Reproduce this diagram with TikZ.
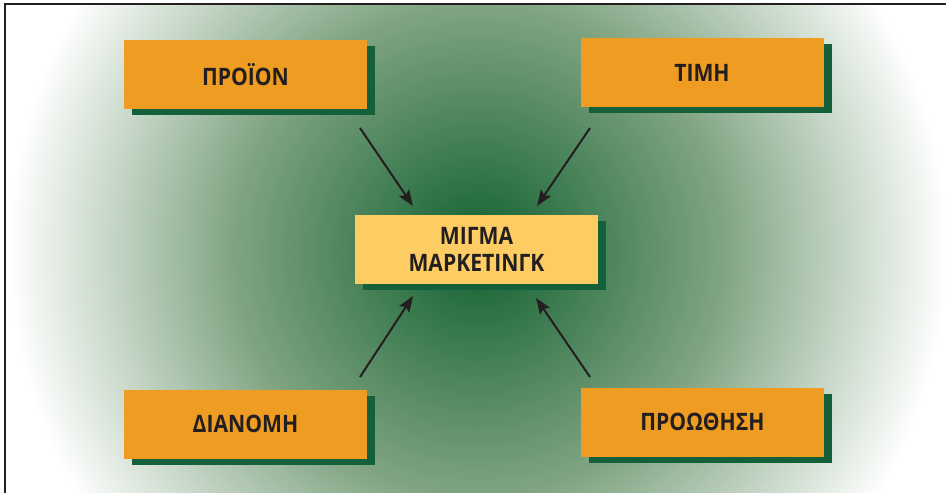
\documentclass[tikz,border=0pt]{standalone}
\usepackage{fontspec}
\setmainfont{Open Sans}[FakeStretch=0.88]
\usetikzlibrary{arrows.meta,shadows}

\definecolor{boxorange}{RGB}{239,156,34}
\definecolor{boxyellow}{RGB}{253,204,98}
\definecolor{shadowgreen}{RGB}{19,96,58}
\definecolor{inkdark}{RGB}{35,31,32}
\definecolor{glowcore}{RGB}{30,104,58}
\definecolor{glowmid}{RGB}{128,164,130}

% radial glow: dark green core fading to white at the rim (rim = 25bp)
\pgfdeclareradialshading{greenglow}{\pgfpoint{0bp}{0bp}}{%
  color(0bp)=(glowcore);
  color(2bp)=(glowcore!95!glowmid);
  color(13bp)=(glowmid);
  color(25bp)=(white);
  color(50bp)=(white)}

\tikzset{
  mixbox/.style={rectangle, inner sep=0pt, outer sep=0pt,
    minimum width=243pt, minimum height=69pt, align=center,
    text=inkdark, font=\bfseries\fontsize{24}{27}\selectfont,
    drop shadow={shadow xshift=8pt, shadow yshift=-6pt,
      fill=shadowgreen, opacity=1}},
  outerbox/.style={mixbox, fill=boxorange},
  corebox/.style={mixbox, fill=boxyellow},
  pointer/.style={line width=2pt, draw=inkdark,
    -{Stealth[length=16pt, width=12pt, inset=3pt]}}
}

\begin{document}
\begin{tikzpicture}[x=1pt, y=-1pt]
  \useasboundingbox (0,0) rectangle (946,493);
  \fill[white] (0,0) rectangle (946,493);

  % shaded backdrop inside the frame
  \begin{scope}
    \clip (5,4) rectangle (946,493);
    \shade[shading=greenglow] (478,250) circle[radius=470];
  \end{scope}

  % frame (top and left edges)
  \draw[line width=2.2pt, draw=inkdark] (5,493) -- (5,4) -- (946,4);

  % the four elements and the central mix
  \node[outerbox] (product)   at (245.5,74.5) {ΠΡΟΪΟΝ};
  \node[outerbox] (price)     at (702,72.5)   {ΤΙΜΗ};
  \node[outerbox] (place)     at (245.5,424)  {ΔΙΑΝΟΜΗ};
  \node[outerbox] (promotion) at (702.5,422)  {ΠΡΟΩΘΗΣΗ};
  \node[corebox]  (mix)       at (476.5,249.5) {ΜΙΓΜΑ\\ΜΑΡΚΕΤΙΝΓΚ};

  % arrow end points
  \coordinate (productout)   at (360,128);
  \coordinate (productin)    at (413,206);
  \coordinate (priceout)     at (590,128);
  \coordinate (pricein)      at (537,206);
  \coordinate (placeout)     at (360,377);
  \coordinate (placein)      at (413,296);
  \coordinate (promotionout) at (590,377);
  \coordinate (promotionin)  at (536,298);

  \draw[pointer] (productout) -- (productin);
  \draw[pointer] (priceout) -- (pricein);
  \draw[pointer] (placeout) -- (placein);
  \draw[pointer] (promotionout) -- (promotionin);
\end{tikzpicture}
\end{document}
